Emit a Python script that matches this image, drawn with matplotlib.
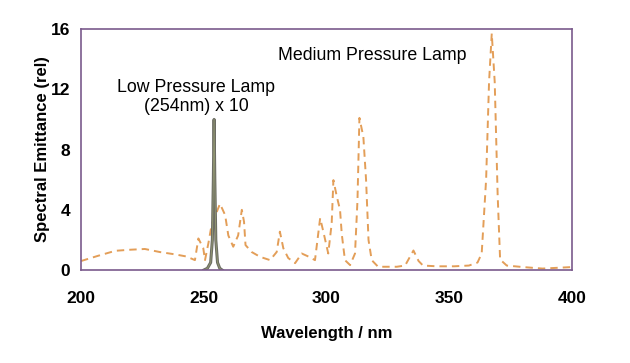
import numpy as np
import matplotlib.pyplot as plt

plt.rcParams['font.family'] = ['Liberation Sans', 'DejaVu Sans']

# medium pressure lamp (dashed)
mp_wl = [200, 207, 214, 220, 226, 232, 238, 243, 246.4, 247.8, 249.8, 250.5, 251.9,
         253.2, 256.6, 258.7, 260, 262, 264, 265.5, 266.4, 267, 269.5, 272.9, 277,
         279.7, 281, 282.4, 284.4, 287.2, 289.9, 292.6, 295.3, 297.4, 298.7, 300.7,
         302.1, 302.8, 304.2, 305.5, 306.2, 307.5, 309.6, 311.6, 312.6, 313.4, 315,
         316.1, 317.1, 318.4, 321, 328.6, 332, 335.4, 337.5, 339.3, 345, 352, 358,
         361.5, 363.2, 365, 366.2, 367.3, 368.5, 369.7, 370.7, 373.4, 380, 388, 394, 400]
mp_val = [0.6, 0.95, 1.28, 1.35, 1.4, 1.2, 1.05, 0.9, 0.66, 2.1, 1.45, 0.66, 1.8,
          3.0, 4.4, 3.65, 2.3, 1.55, 2.3, 4.0, 3.2, 1.66, 1.2, 0.88, 0.66,
          1.2, 2.55, 1.45, 0.8, 0.46, 1.1, 0.9, 0.66, 3.45, 2.55, 1.1,
          3.1, 5.97, 4.87, 4.0, 2.4, 0.66, 0.33, 1.1, 4.6, 10.1, 8.85,
          6.0, 2.0, 0.66, 0.22, 0.22, 0.3, 1.3, 0.6, 0.3, 0.25, 0.25, 0.3,
          0.5, 1.1, 6.0, 12.5, 15.7, 12.5, 5.0, 0.7, 0.3, 0.2, 0.1, 0.15, 0.2]

# low pressure lamp (254 nm, x10)
lp_wl = [250.0, 251.5, 252.8, 253.5, 253.9, 254.2, 254.5, 254.9, 255.6, 256.5, 257.5]
lp_val = [0, 0.12, 0.5, 2.0, 6.0, 10.0, 6.0, 2.0, 0.5, 0.12, 0]

W, H = 630, 363
fig = plt.figure(figsize=(W / 100, H / 100), dpi=100)
ax = fig.add_axes([0.1286, 0.256, 0.7794, 0.664])

ax.plot(mp_wl, mp_val, color='#E39E58', lw=1.4, dashes=(3.8, 2.6))
ax.plot(lp_wl, lp_val, color='#6c6c64', lw=2.2)
ax.plot(lp_wl, lp_val, color='#8f9470', lw=0.7)

ax.set_xlim(200, 400)
ax.set_ylim(0, 16)
ax.set_xticks([200, 250, 300, 350, 400])
ax.set_yticks([0, 4, 8, 12, 16])
ax.tick_params(length=0, labelsize=12.5)
ax.tick_params(axis='x', pad=15)
ax.tick_params(axis='y', pad=8)
for lab in ax.get_xticklabels() + ax.get_yticklabels():
    lab.set_fontweight('bold')
for s in ax.spines.values():
    s.set_color('#7a5a8c')
    s.set_linewidth(1.2)

ax.set_xlabel('Wavelength / nm', fontsize=12, fontweight='bold', labelpad=14.5)
ax.set_ylabel('Spectral Emittance (rel)', fontsize=12, fontweight='bold', labelpad=0.5)

# annotations placed in figure pixel coordinates (from top-left)
fig.text(278 / W, 1 - 55 / H, 'Medium Pressure Lamp', fontsize=12.8,
         va='center', ha='left')
fig.text(196 / W, 1 - 97 / H, 'Low Pressure Lamp\n(254nm) x 10', fontsize=12.8,
         va='center', ha='center', linespacing=1.2)

fig.savefig('out.png', dpi=100)
